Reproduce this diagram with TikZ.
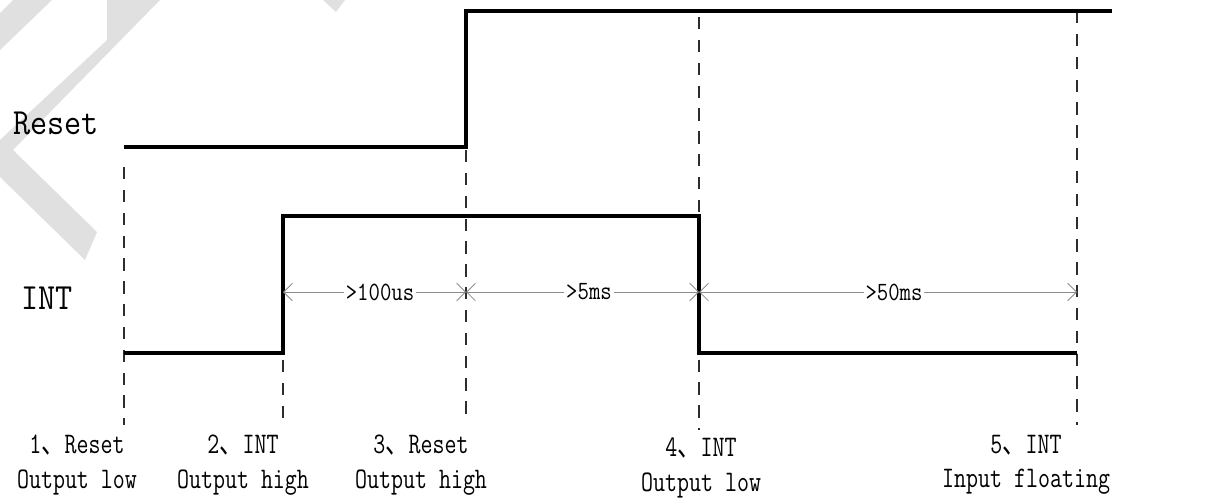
\documentclass[tikz,border=0pt]{standalone}
\usepackage{fontspec}
\usepackage{graphicx}
\newfontfamily\cjk{Noto Sans CJK SC}
\usetikzlibrary{arrows.meta}
\definecolor{wmark}{RGB}{224,224,224}
\definecolor{dimline}{RGB}{140,140,140}
\definecolor{guide}{RGB}{45,45,45}
\newcommand{\hsqz}[2]{\scalebox{#1}[1]{#2}}

\begin{document}
\begin{tikzpicture}[
    x=0.02cm, y=-0.02cm,
    font=\ttfamily,
    signal/.style={line width=1.8pt, black, line join=miter},
    guideline/.style={guide, line width=1pt, dash pattern=on 7pt off 6pt},
    dimarr/.style={dimline, line width=0.5pt,
        {Straight Barb[length=5pt,width=10pt]}-{Straight Barb[length=5pt,width=10pt]}},
    dimlbl/.style={fill=white, inner sep=1pt, font=\fontsize{15}{17}\selectfont\ttfamily},
    siglbl/.style={font=\fontsize{21}{24}\selectfont\ttfamily},
    steplbl/.style={align=center, font=\fontsize{17}{19.5}\selectfont\ttfamily},
]
\useasboundingbox (0,0) rectangle (1216,497);

% watermark
\fill[wmark] (13,0) -- (52,0) -- (0,50) -- (0,13) -- cycle;
\fill[wmark] (107,0) -- (160,0) -- (13,150) -- (97,232) -- (85,260) -- (0,177)
    -- (0,140) -- (107,40) -- cycle;
\fill[wmark] (323,0) -- (345,0) -- (336,12) -- cycle;

% signal names
\node[siglbl] (rstlbl) at (56,123) {\hsqz{0.9}{Reset}};
\node[siglbl] (intlbl) at (47,298) {\hsqz{0.9}{INT}};

% guide lines
\draw[guideline] (124,167) -- (124,425);
\draw[guideline] (283,360) -- (283,420);
\draw[guideline] (466,150) -- (466,422);
\draw[guideline] (699,17) -- (699,430);
\draw[guideline] (1077,11) -- (1077,425);

% Reset
\draw[signal] (124,147) -- (466,147) -- (466,11) -- (1112,11);

% INT
\draw[signal] (124,353) -- (283,353) -- (283,216) -- (699,216) -- (699,353) -- (1077,353);

% timing
\draw[dimarr] (283,292) -- (466,292);
\draw[dimarr] (466,292) -- (699,292);
\draw[dimarr] (699,292) -- (1077,292);
\node[dimlbl] (t1) at (380,292) {\hsqz{0.84}{>100us}};
\node[dimlbl] (t2) at (589,292) {\hsqz{0.84}{>5ms}};
\node[dimlbl] (t3) at (894,292) {\hsqz{0.84}{>50ms}};

% steps
\node[steplbl] (s1) at (77,465) {\hsqz{0.78}{1{\cjk 、}Reset}\\\hsqz{0.78}{Output low}};
\node[steplbl] (s2) at (243,465) {\hsqz{0.78}{2{\cjk 、}INT}\\\hsqz{0.78}{Output high}};
\node[steplbl] (s3) at (421,465) {\hsqz{0.78}{3{\cjk 、}Reset}\\\hsqz{0.78}{Output high}};
\node[steplbl] (s4) at (701,468) {\hsqz{0.78}{4{\cjk 、}INT}\\\hsqz{0.78}{Output low}};
\node[steplbl] (s5) at (1026,465) {\hsqz{0.78}{5{\cjk 、}INT}\\\hsqz{0.78}{Input floating}};

\end{tikzpicture}
\end{document}
